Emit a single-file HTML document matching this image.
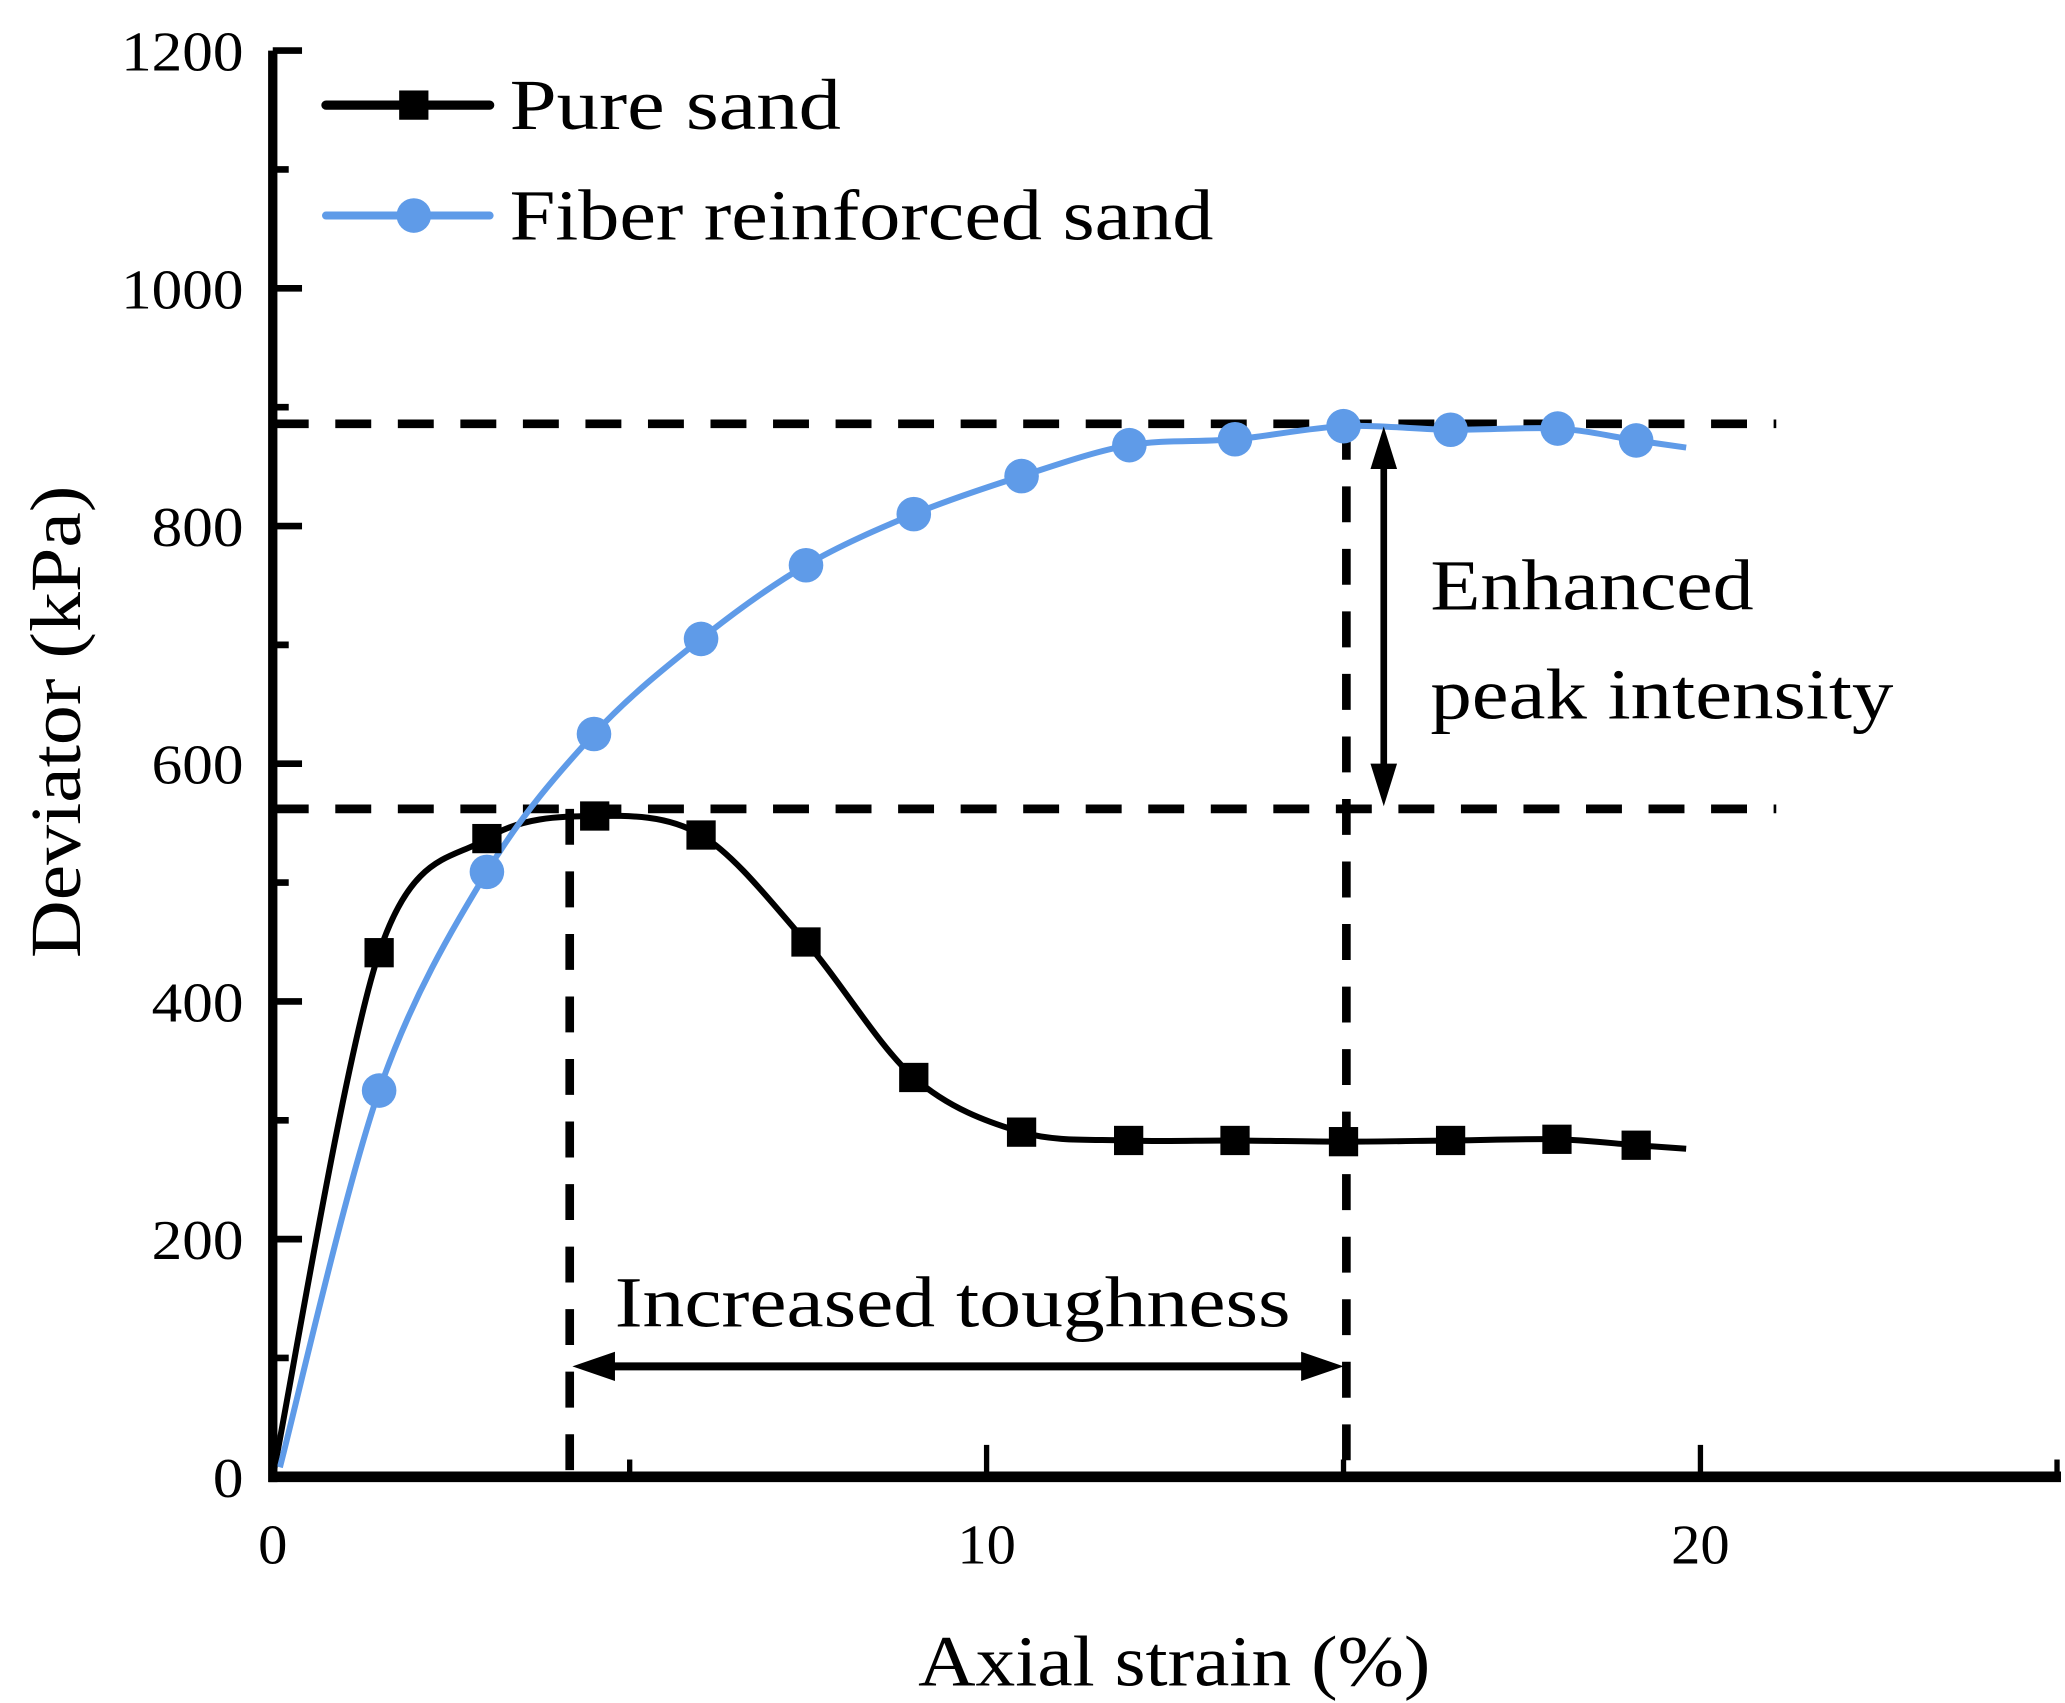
<!DOCTYPE html>
<html><head><meta charset="utf-8"><style>
html,body{margin:0;padding:0;background:#fff}
svg{display:block}
text{font-family:"Liberation Serif",serif;fill:#000}
</style></head><body>
<svg id="chart" width="2065" height="1703" viewBox="0 0 1552 1280" preserveAspectRatio="none" xmlns="http://www.w3.org/2000/svg">
<g id="marks"></g>
</svg>
<script>
const pureStrain=[0,1.49,3.0,4.51,6.0,7.47,8.98,10.49,11.99,13.48,15.0,16.5,17.99,19.1,19.8];
const pureStress=[0,441,537,556,540,450,336,290,283,283,282,283,284,279,276];
const fiberStrain=[0.1,1.49,3.0,4.5,6.0,7.47,8.98,10.49,12.0,13.48,15.0,16.5,18.0,19.1,19.8];
const fiberStress=[8,325,509,625,705,767,810,842,868,873,884,881,882,872,866];
const xTicks=[0,10,20];
const yTicks=[0,200,400,600,800,1000,1200];
const peakFiber=886, peakPure=562, strainPure=4.16, strainFiber=15.04;

const NS='http://www.w3.org/2000/svg';
const svg=document.getElementById('marks');
const X=v=>205+53.65*v;
const Y=v=>1110-0.8933*v;
function mk(tag,attrs,parent){const e=document.createElementNS(NS,tag);for(const k in attrs)e.setAttribute(k,attrs[k]);(parent||svg).appendChild(e);return e;}
function smooth(xs,ys){
 const p=xs.map((x,i)=>[X(x),Y(ys[i])]);
 let d='M'+p[0][0]+','+p[0][1];
 for(let i=0;i<p.length-1;i++){
  const p0=p[i-1]||p[i],p1=p[i],p2=p[i+1],p3=p[i+2]||p2;
  const t=0.16;
  d+=' C'+(p1[0]+(p2[0]-p0[0])*t)+','+(p1[1]+(p2[1]-p0[1])*t)+' '+(p2[0]-(p3[0]-p1[0])*t)+','+(p2[1]-(p3[1]-p1[1])*t)+' '+p2[0]+','+p2[1];
 }
 return d;
}
const dash={stroke:'#000','stroke-width':6.5,'stroke-dasharray':'27 20',fill:'none'};
let e;
e=mk('line',Object.assign({x1:205,y1:Y(peakFiber),x2:1335,y2:Y(peakFiber)},dash));

e=mk('line',Object.assign({x1:205,y1:Y(peakPure),x2:1335,y2:Y(peakPure)},dash));

e=mk('line',Object.assign({x1:X(strainPure),y1:Y(peakPure),x2:X(strainPure),y2:Y(0)},dash));

e=mk('line',Object.assign({x1:X(strainFiber),y1:Y(peakFiber),x2:X(strainFiber),y2:Y(0)},dash));


e=mk('path',{d:smooth(pureStrain,pureStress),stroke:'#000','stroke-width':4.5,fill:'none'});

e=mk('path',{d:smooth(fiberStrain,fiberStress),stroke:'#5f9be8','stroke-width':4.5,fill:'none'});

for(let i=1;i<pureStrain.length-1;i++){
 e=mk('rect',{x:X(pureStrain[i])-11,y:Y(pureStress[i])-11,width:22,height:22,fill:'#000'});
 
}
for(let i=1;i<fiberStrain.length-1;i++){
 e=mk('circle',{cx:X(fiberStrain[i]),cy:Y(fiberStress[i]),r:13,fill:'#5f9be8'});
 
}
function arrowHead(x,y,dir){
 let pts;
 if(dir==='up')pts=[[x,y],[x-10,y+32],[x+10,y+32]];
 if(dir==='down')pts=[[x,y],[x-10,y-32],[x+10,y-32]];
 if(dir==='left')pts=[[x,y],[x+32,y-11],[x+32,y+11]];
 if(dir==='right')pts=[[x,y],[x-32,y-11],[x-32,y+11]];
 return mk('polygon',{points:pts.map(p=>p.join(',')).join(' '),fill:'#000'});
}
e=mk('line',{x1:1040,y1:Y(peakFiber)+20,x2:1040,y2:Y(peakPure)-20,stroke:'#000','stroke-width':5});

e=arrowHead(1040,Y(peakFiber)+2,'up');
e=arrowHead(1040,Y(peakPure)-2,'down');
e=mk('line',{x1:X(strainPure)+20,y1:1027,x2:X(strainFiber)-20,y2:1027,stroke:'#000','stroke-width':6});

e=arrowHead(X(strainPure)+2,1027,'left');
e=arrowHead(X(strainFiber)-2,1027,'right');

e=mk('line',{x1:205,y1:Y(1200),x2:205,y2:1114,stroke:'#000','stroke-width':7});

e=mk('line',{x1:202,y1:1110,x2:1549,y2:1110,stroke:'#000','stroke-width':8});

for(let v=0;v<=1200;v+=100){
 const len=v%200===0?22:12;
 e=mk('line',{x1:205,y1:Y(v),x2:205+len,y2:Y(v),stroke:'#000','stroke-width':5});
 
}
for(let v=5;v<=25;v+=5){
 const len=v%10===0?24:13;
 const xx=v===25?1546:X(v);
 e=mk('line',{x1:xx,y1:1110,x2:xx,y2:1110-len,stroke:'#000','stroke-width':4});
 
}
yTicks.forEach(v=>{
 const s=String(v);
 e=mk('text',{x:183,y:Y(v)+15,'text-anchor':'end','font-size':42,textLength:23*s.length,lengthAdjust:'spacingAndGlyphs'});e.textContent=s;
 
});
xTicks.forEach(v=>{
 const s=String(v);
 e=mk('text',{x:X(v),y:1175,'text-anchor':'middle','font-size':42,textLength:22*s.length,lengthAdjust:'spacingAndGlyphs'});e.textContent=s;
 
});
</script>
<svg style="position:absolute;left:0;top:0" width="2065" height="1703" viewBox="0 0 1552 1280" preserveAspectRatio="none" xmlns="http://www.w3.org/2000/svg">
<text x="690" y="1267" font-size="54" textLength="385" lengthAdjust="spacingAndGlyphs">Axial strain (%)</text>
<text x="0" y="0" transform="translate(60,720) rotate(-90)" font-size="54" textLength="355" lengthAdjust="spacingAndGlyphs">Deviator (kPa)</text>
<text x="1075" y="458" font-size="54" textLength="243" lengthAdjust="spacingAndGlyphs">Enhanced</text>
<text x="1075" y="540" font-size="54" textLength="348" lengthAdjust="spacingAndGlyphs">peak intensity</text>
<text x="462" y="997" font-size="54" textLength="508" lengthAdjust="spacingAndGlyphs">Increased toughness</text>
<g>
<line x1="245" y1="79" x2="300" y2="79" stroke="#000" stroke-width="7" stroke-linecap="round"/>
<line x1="322" y1="79" x2="368" y2="79" stroke="#000" stroke-width="7" stroke-linecap="round"/>
<rect x="300" y="68" width="22" height="22" fill="#000"/>
<text x="383" y="97" font-size="54" textLength="249" lengthAdjust="spacingAndGlyphs">Pure sand</text>
<line x1="245" y1="162" x2="368" y2="162" stroke="#5f9be8" stroke-width="6" stroke-linecap="round"/>
<circle cx="311" cy="162" r="13" fill="#5f9be8"/>
<text x="383" y="180" font-size="54" textLength="529" lengthAdjust="spacingAndGlyphs">Fiber reinforced sand</text>
</g>
</svg>
</body></html>
